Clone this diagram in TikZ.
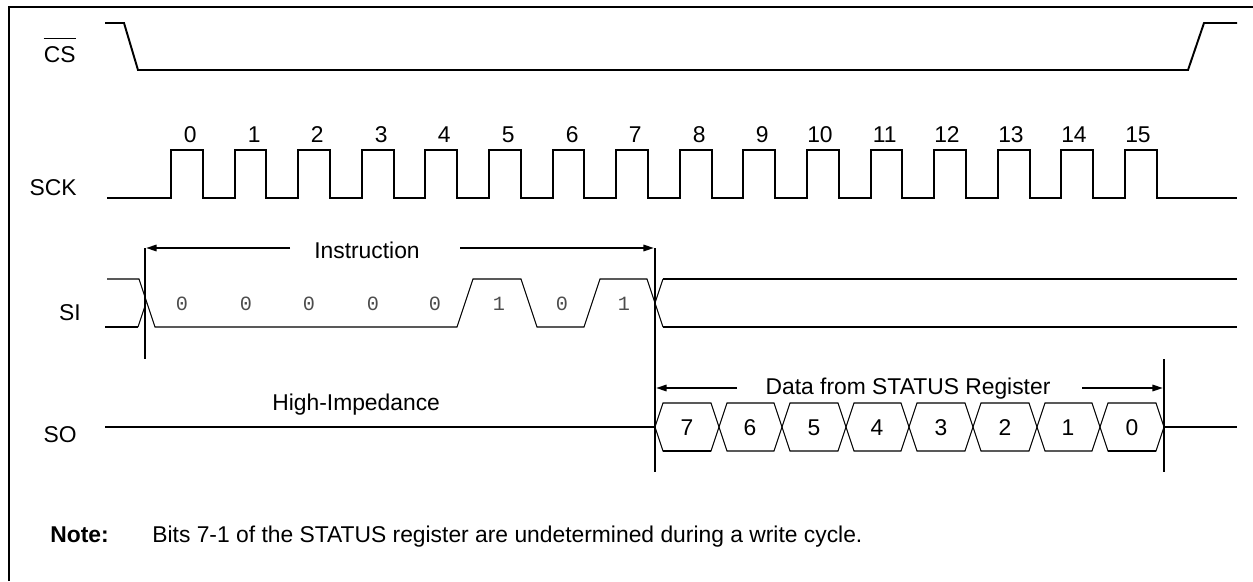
\documentclass[tikz,border=0pt]{standalone}
\usepackage{fontspec}
\setmainfont{Liberation Sans}
\newfontfamily\bitfont{Liberation Mono}
\usetikzlibrary{arrows.meta,calc}

\begin{document}
\begin{tikzpicture}[x=0.02cm,y=-0.02cm,
    sig/.style={line width=1.1pt},
    thinsig/.style={line width=0.6pt},
    lbl/.style={inner sep=0pt,font=\fontsize{13}{15}\selectfont},
    bitlbl/.style={inner sep=0pt,text=black!70,font=\bitfont\fontsize{11.5}{13}\selectfont},
    dimarrow/.style={line width=1.1pt,-{Triangle[length=6pt,width=3.6pt]}}]

    \useasboundingbox (0,0) rectangle (1253,581);
    \draw[sig] (9,581) -- (9,7) -- (1253,7);

    % signal names
    \node[lbl,anchor=base east] (cs) at (76,63) {CS};
    \draw[line width=0.8pt] ($(cs.north west)+(0,-8)$) -- ($(cs.north east)+(0,-8)$);
    \node[lbl,anchor=base east] (sck) at (77,195) {SCK};
    \node[lbl,anchor=base east] (si) at (81,320) {SI};
    \node[lbl,anchor=base east] (so) at (77,442) {SO};

    % CS
    \draw[sig] (105,23) -- (124,23) -- (138,70) -- (1188,70) -- (1204,23) -- (1237,23);

    % SCK
    \draw[sig] (107,198) -| (171,150) -| (203,198) -| (235,150) -| (266,198)
        -| (298,150) -| (330,198) -| (362,150) -| (394,198) -| (425,150) -| (457,198)
        -| (489,150) -| (521,198) -| (553,150) -| (584,198) -| (616,150) -| (648,198)
        -| (680,150) -| (712,198) -| (743,150) -| (775,198) -| (807,150) -| (839,198)
        -| (871,150) -| (902,198) -| (934,150) -| (966,198) -| (998,150) -| (1030,198)
        -| (1061,150) -| (1093,198) -| (1125,150) -| (1157,198) -- (1237,198);
    \node[lbl,anchor=base east] (c0) at (197,142) {0};
    \node[lbl,anchor=base east] (c1) at (261,142) {1};
    \node[lbl,anchor=base east] (c2) at (324,142) {2};
    \node[lbl,anchor=base east] (c3) at (388,142) {3};
    \node[lbl,anchor=base east] (c4) at (451,142) {4};
    \node[lbl,anchor=base east] (c5) at (515,142) {5};
    \node[lbl,anchor=base east] (c6) at (579,142) {6};
    \node[lbl,anchor=base east] (c7) at (642,142) {7};
    \node[lbl,anchor=base east] (c8) at (706,142) {8};
    \node[lbl,anchor=base east] (c9) at (769,142) {9};
    \node[lbl,anchor=base east] (c10) at (833,142) {10};
    \node[lbl,anchor=base east] (c11) at (897,142) {11};
    \node[lbl,anchor=base east] (c12) at (960,142) {12};
    \node[lbl,anchor=base east] (c13) at (1024,142) {13};
    \node[lbl,anchor=base east] (c14) at (1087,142) {14};
    \node[lbl,anchor=base east] (c15) at (1151,142) {15};

    % SI
    \draw[thinsig] (107,279) -- (139,279) -- (155,327) -- (457,327) -- (473,279) -- (521,279)
        -- (537,327) -- (584,327) -- (600,279) -- (647,279) -- (655,303);
    \draw[sig] (105,327) -- (138,327);
    \draw[thinsig] (138,327) -- (146,303);
    \draw[thinsig] (663,279) -- (655,303) -- (663,327);
    \draw[sig] (663,279) -- (1237,279);
    \draw[sig] (663,327) -- (1237,327);
    \node[bitlbl,anchor=base] (b7) at (182,310) {0};
    \node[bitlbl,anchor=base] (b6) at (246,310) {0};
    \node[bitlbl,anchor=base] (b5) at (309,310) {0};
    \node[bitlbl,anchor=base] (b4) at (373,310) {0};
    \node[bitlbl,anchor=base] (b3) at (435,310) {0};
    \node[bitlbl,anchor=base] (b2) at (499,310) {1};
    \node[bitlbl,anchor=base] (b1) at (562,310) {0};
    \node[bitlbl,anchor=base] (b0) at (624,310) {1};

    % markers and arrows
    \coordinate (A) at (145,248);
    \coordinate (A') at (145,359);
    \coordinate (B) at (655,248);
    \coordinate (B') at (655,472);
    \coordinate (C) at (1164,359);
    \coordinate (C') at (1164,472);
    \draw[sig] (A) -- (A');
    \draw[sig] (B) -- (B');
    \draw[sig] (C) -- (C');
    \coordinate (ia) at (290,248);
    \coordinate (ib) at (460,248);
    \coordinate (da) at (737,388);
    \coordinate (db) at (1082,388);
    \draw[dimarrow] (ia) -- ($(A)+(1,0)$);
    \draw[dimarrow] (ib) -- ($(B)+(-1,0)$);
    \draw[dimarrow] (da) -- (656,388);
    \draw[dimarrow] (db) -- (1163,388);
    \node[lbl,anchor=base] (ins) at (367,258) {Instruction};
    \node[lbl,anchor=base] (dat) at (908,394) {Data from STATUS Register};

    % SO
    \node[lbl,anchor=base west] (hiz) at (272,410) {High-Impedance};
    \draw[sig] (105,427) -- (655,427);
    \draw[sig] (1164,427) -- (1237,427);
    \draw[thinsig] (655,427) -- (663,403) -- (711,403) -- (719,427) -- (711,451) -- (663,451) -- cycle;
    \draw[thinsig] (719,427) -- (727,403) -- (774,403) -- (782,427) -- (774,451) -- (727,451) -- cycle;
    \draw[thinsig] (782,427) -- (790,403) -- (838,403) -- (846,427) -- (838,451) -- (790,451) -- cycle;
    \draw[thinsig] (846,427) -- (854,403) -- (901,403) -- (909,427) -- (901,451) -- (854,451) -- cycle;
    \draw[thinsig] (909,427) -- (917,403) -- (965,403) -- (973,427) -- (965,451) -- (917,451) -- cycle;
    \draw[thinsig] (973,427) -- (981,403) -- (1029,403) -- (1037,427) -- (1029,451) -- (981,451) -- cycle;
    \draw[thinsig] (1037,427) -- (1045,403) -- (1092,403) -- (1100,427) -- (1092,451) -- (1045,451) -- cycle;
    \draw[thinsig] (1100,427) -- (1108,403) -- (1156,403) -- (1164,427) -- (1156,451) -- (1108,451) -- cycle;
    \draw[sig] (663,451) -- (711,451);
    \draw[sig] (1108,451) -- (1156,451);
    \node[lbl,anchor=base] (d7) at (687,435) {7};
    \node[lbl,anchor=base] (d6) at (750,435) {6};
    \node[lbl,anchor=base] (d5) at (814,435) {5};
    \node[lbl,anchor=base] (d4) at (877,435) {4};
    \node[lbl,anchor=base] (d3) at (941,435) {3};
    \node[lbl,anchor=base] (d2) at (1005,435) {2};
    \node[lbl,anchor=base] (d1) at (1068,435) {1};
    \node[lbl,anchor=base] (d0) at (1132,435) {0};

    % note
    \node[lbl,anchor=base west,font=\fontsize{13}{15}\selectfont\bfseries] (nt) at (50,542) {Note:};
    \node[lbl,anchor=base west] (ntx) at (152,542) {Bits 7-1 of the STATUS register are undetermined during a write cycle.};

\end{tikzpicture}
\end{document}
